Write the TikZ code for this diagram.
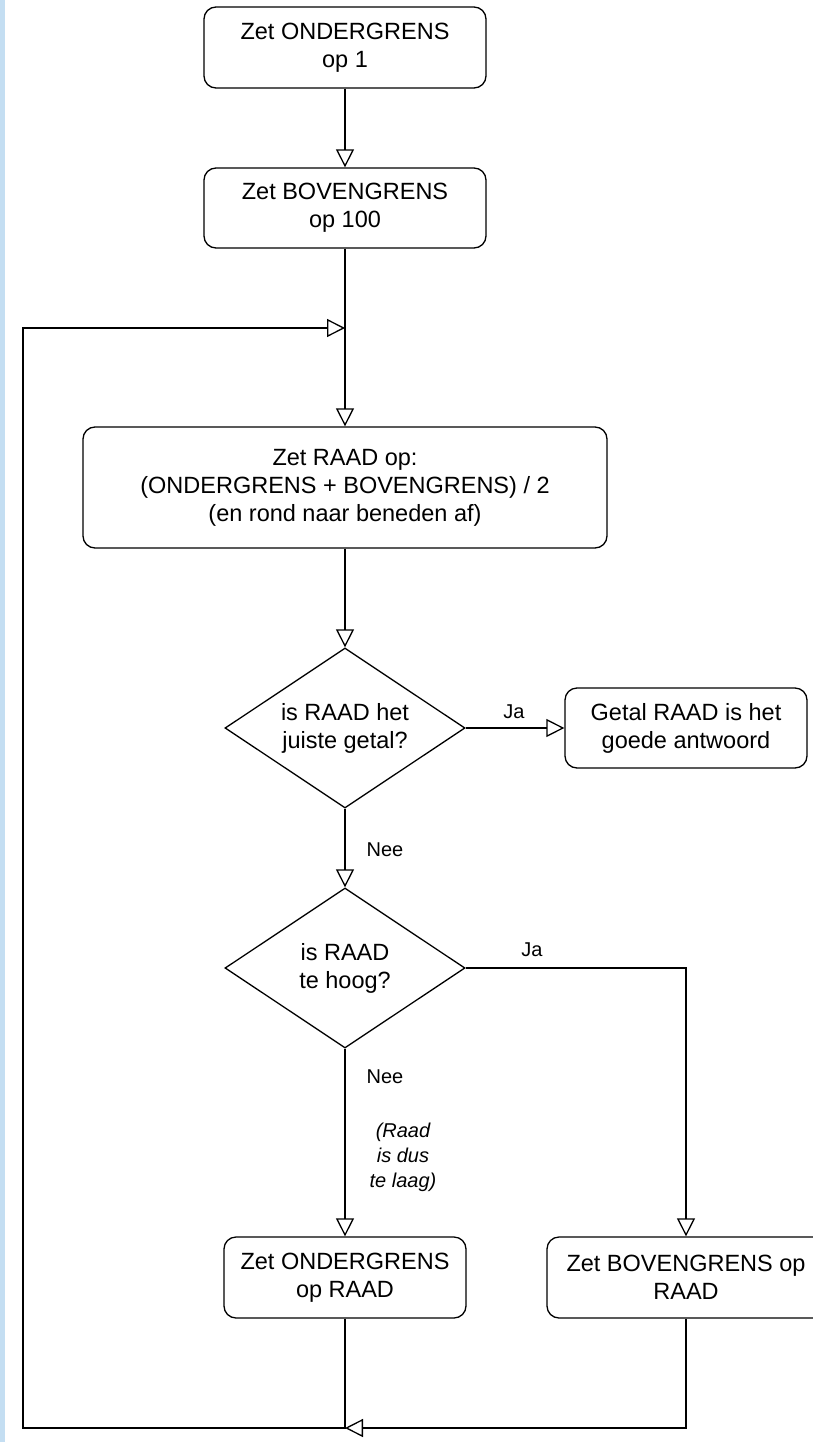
\documentclass[tikz,border=0pt]{standalone}
\usepackage{fontspec}
\setmainfont{Liberation Sans}
\usetikzlibrary{arrows.meta,shapes.geometric}
\definecolor{barblue}{HTML}{C4DEF2}
\begin{document}
\begin{tikzpicture}[x=1pt,y=-1pt,
  box/.style={draw, line width=1.3pt, rounded corners=12pt, align=center,
    font=\fontsize{23.5}{28}\selectfont, inner sep=0pt},
  dec/.style={draw, shape=diamond, line width=1.3pt, shape aspect=1.5,
    minimum width=240pt, minimum height=160pt, inner sep=0pt, align=center,
    font=\fontsize{23.5}{28}\selectfont},
  lbl/.style={font=\fontsize{20}{25}\selectfont, inner sep=0pt},
  note/.style={font=\fontsize{20}{25}\selectfont\itshape, align=center, inner sep=0pt},
  arr/.style={line width=1.3pt, -{Triangle[open, length=18pt, width=18pt]}},
  ln/.style={line width=1.3pt}]
\useasboundingbox (0,0) rectangle (813,1442);
\fill[barblue] (0,0) rectangle (5,1442);

\node[box, minimum width=282pt, minimum height=81pt] (b1) at (345,47.5) {Zet ONDERGRENS\\op 1};
\node[box, minimum width=282pt, minimum height=80pt] (b2) at (345,208) {Zet BOVENGRENS\\op 100};
\node[box, minimum width=524pt, minimum height=121pt] (b3) at (345,487.5)
  {Zet RAAD op:\\(ONDERGRENS + BOVENGRENS) / 2\\(en rond naar beneden af)};
\node[dec] (d1) at (345,728) {is RAAD het\\juiste getal?};
\node[box, minimum width=242pt, minimum height=80pt] (res) at (686,728) {Getal RAAD is het\\goede antwoord};
\node[dec] (d2) at (345,968) {is RAAD\\te hoog?};
\node[box, minimum width=242pt, minimum height=81pt] (lb) at (345,1277.5) {Zet ONDERGRENS\\op RAAD};
\node[box, minimum width=278pt, minimum height=81pt] (rb) at (686,1277.5) {Zet BOVENGRENS op\\RAAD};

\node[lbl] (ja1) at (514,712) {Ja};
\node[lbl] (nee1) at (385,850) {Nee};
\node[lbl] (ja2) at (532,950) {Ja};
\node[lbl] (nee2) at (385,1077) {Nee};
\node[note] (nt) at (403,1157) {(Raad\\is dus\\te laag)};

\coordinate (lt) at (345,328);
\coordinate (lc) at (345,1428);
\coordinate (cbl) at (23,1428);
\coordinate (ctl) at (23,328);

\draw[arr] (b1) -- (b2);
\draw[arr] (b2) -- (b3);
\draw[arr] (b3) -- (d1);
\draw[arr] (d1) -- (res);
\draw[arr] (d1) -- (d2);
\draw[arr] (d2.east) -| (rb.north);
\draw[arr] (d2) -- (lb);
\draw[arr] (lb.south) -- (lc) -- (cbl) -- (ctl) -- (lt);
\draw[arr] (rb.south) |- (lc);
\end{tikzpicture}
\end{document}
